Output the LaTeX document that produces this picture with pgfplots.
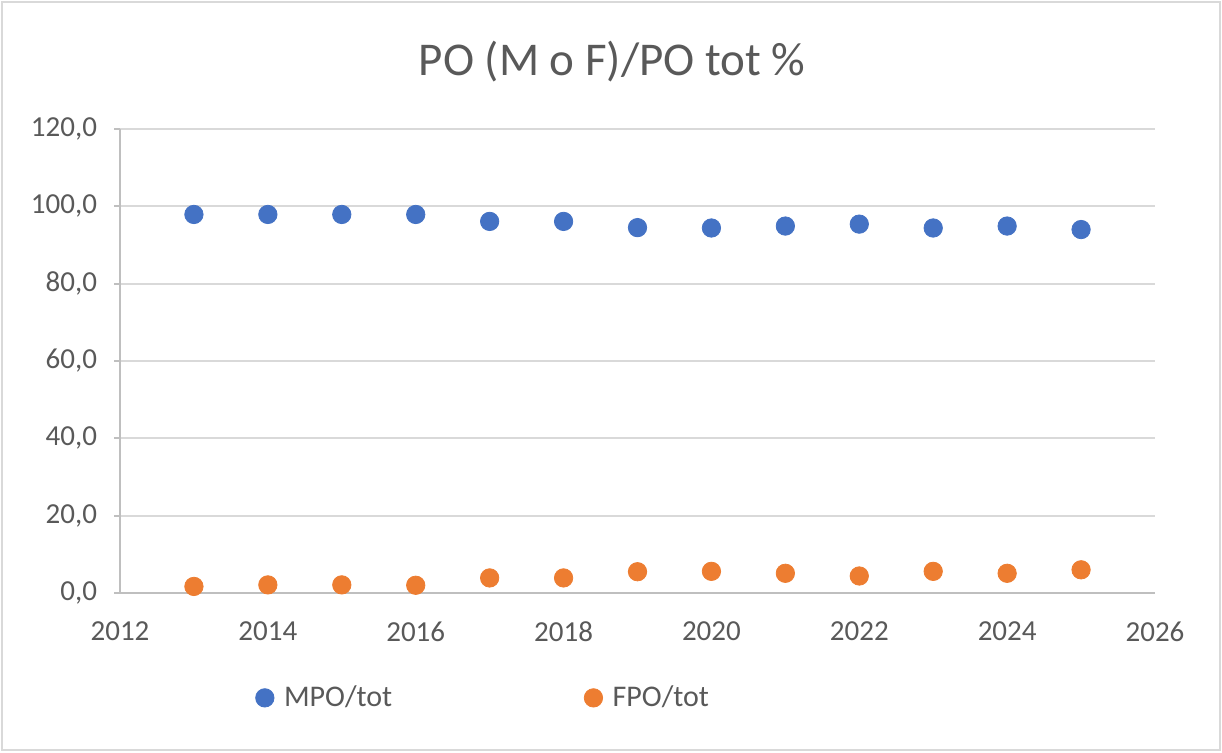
\documentclass[border=0pt]{standalone}
\usepackage{fontspec}
\setmainfont{Carlito}
\usepackage{pgfplots}
\pgfplotsset{compat=1.18}
\definecolor{cblue}{HTML}{4472C4}
\definecolor{corange}{HTML}{ED7D31}
\definecolor{ctext}{HTML}{595959}
\definecolor{cgrid}{HTML}{D9D9D9}
\definecolor{caxis}{HTML}{BFBFBF}
\begin{document}
\begin{tikzpicture}
\useasboundingbox (0,0) rectangle (611pt,376pt);
\draw[color=cgrid, line width=1pt] (1pt,1pt) rectangle (610pt,375pt);
\node[text=ctext, font=\fontsize{23.5}{28}\selectfont] at (306pt,345pt) {PO (M o F)/PO tot \%};
\begin{axis}[
  at={(60pt,79.5pt)}, anchor=south west,
  scale only axis, width=517.5pt, height=232pt,
  xmin=2012, xmax=2026, ymin=0, ymax=120,
  xtick={2012,2014,...,2026}, ytick={0,20,...,120},
  separate axis lines,
  axis x line*=bottom, axis y line*=left,
  x axis line style={draw=caxis, line width=1pt, -},
  y axis line style={draw=caxis, line width=1pt, -},
  ymajorgrids, grid style={cgrid, line width=1pt},
  major x tick style={draw=none},
  major y tick style={caxis, line width=1pt},
  tick align=outside, major tick length=3pt,
  ticklabel style={text=ctext, font=\fontsize{14.5}{17}\selectfont},
  /pgf/number format/assume math mode=true,
  x tick label style={/pgf/number format/1000 sep={}, yshift=-8pt},
  y tick label style={/pgf/number format/fixed, /pgf/number format/fixed zerofill, /pgf/number format/precision=1, /pgf/number format/use comma, /pgf/number format/1000 sep={}, xshift=-5pt},
  legend columns=2,
  legend style={at={(0.352,-0.226)}, anchor=center, draw=none, fill=none,
    text=ctext, font=\fontsize{15}{18}\selectfont,
    /tikz/every odd column/.append style={column sep=3pt},
    /tikz/every even column/.append style={column sep=94pt}},
  legend image code/.code={\draw[#1] plot coordinates {(0.2cm,0cm)};},
  clip=false,
]
\addplot[only marks, mark=*, mark size=4.6pt, color=cblue, mark options={fill=cblue, draw=cblue}]
coordinates {
(2013,97.9) (2014,97.9) (2015,97.9) (2016,97.9) (2017,96.1) (2018,96.1) (2019,94.5)
(2020,94.4) (2021,94.9) (2022,95.4) (2023,94.4) (2024,94.9) (2025,94.0)
};
\addlegendentry{MPO/tot}
\addplot[only marks, mark=*, mark size=4.6pt, color=corange, mark options={fill=corange, draw=corange}]
coordinates {
(2013,1.7) (2014,2.1) (2015,2.1) (2016,2.0) (2017,3.9) (2018,3.9) (2019,5.5)
(2020,5.6) (2021,5.1) (2022,4.4) (2023,5.6) (2024,5.1) (2025,6.0)
};
\addlegendentry{FPO/tot}
\end{axis}
\end{tikzpicture}
\end{document}
